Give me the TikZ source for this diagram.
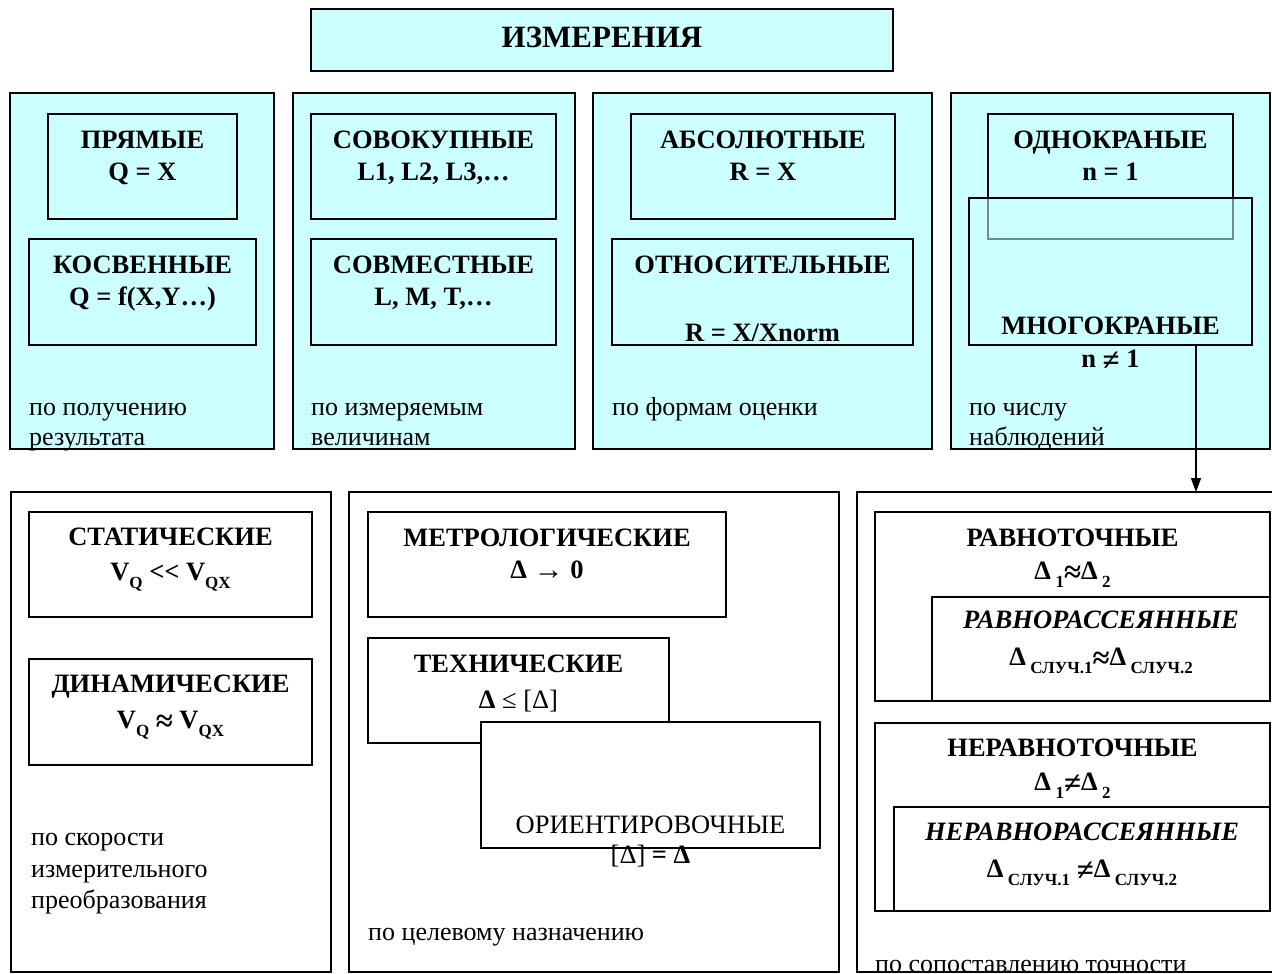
\documentclass[tikz,border=0pt]{standalone}
\usepackage{fontspec}
\setmainfont{Liberation Serif}
\usetikzlibrary{arrows.meta}
\definecolor{cy}{HTML}{CCFFFF}
\newcommand\lowsub[1]{\raisebox{-8pt}{\fontsize{17}{17}\selectfont #1}}
\newcommand\bigrel[1]{\raisebox{-3pt}{\fontsize{31}{30}\selectfont #1}}
\newcommand\mkbox[6]{\node[#2,anchor=north west,minimum width={(#5)-(#3)},minimum height={(#6)-(#4)}] (#1) at (#3,#4) {};}
\begin{document}
\begin{tikzpicture}[x=1pt,y=-1pt,
  panel/.style={draw,line width=1.6pt,fill=cy,inner sep=0,outer sep=0},
  wpanel/.style={draw,line width=1.6pt,fill=white,inner sep=0,outer sep=0},
  cbox/.style={draw,line width=1.6pt,fill=cy,inner sep=0,outer sep=0},
  tbox/.style={draw,line width=1.6pt,inner sep=0,outer sep=0},
  obox/.style={draw,line width=1.6pt,fill=cy,fill opacity=0.55,inner sep=0,outer sep=0},
  bt/.style={font=\bfseries\fontsize{26.5}{30}\selectfont,anchor=base,inner sep=0},
  bit/.style={font=\bfseries\itshape\fontsize{26.5}{30}\selectfont,anchor=base,inner sep=0},
  rt/.style={font=\fontsize{26.5}{30}\selectfont,anchor=base,inner sep=0},
  lab/.style={font=\fontsize{26}{30}\selectfont,anchor=base west,inner sep=0},
  ttl/.style={font=\bfseries\fontsize{31}{36}\selectfont,anchor=base,inner sep=0}]
\clip (0,0) rectangle (1272,974);
\fill[white] (0,0) rectangle (1272,974);
% title
\mkbox{title}{cbox}{311}{9}{893}{71}
\node[ttl] (ttext) at (602,48) {ИЗМЕРЕНИЯ};
% top panels
\mkbox{p1}{panel}{10}{93}{274}{449}
\mkbox{p2}{panel}{293}{93}{575}{449}
\mkbox{p3}{panel}{593}{93}{932}{449}
\mkbox{p4}{panel}{951}{93}{1270}{449}
% panel 1
\mkbox{pr}{cbox}{48}{114}{237}{219}
\node[bt] (pra) at (142.5,148) {ПРЯМЫЕ};
\node[bt] (prb) at (142.5,180) {Q = X};
\mkbox{ko}{cbox}{29}{239}{256}{345}
\node[bt] (koa) at (142.5,273) {КОСВЕННЫЕ};
\node[bt] (kob) at (142.5,305) {Q = f(X,Y…)};
\node[lab] (l1a) at (29,415) {по получению};
\node[lab] (l1b) at (29,445) {результата};
% panel 2
\mkbox{sk}{cbox}{311}{114}{556}{219}
\node[bt] (ska) at (433.5,148) {СОВОКУПНЫЕ};
\node[bt] (skb) at (433.5,180) {L1, L2, L3,…};
\mkbox{sm}{cbox}{311}{239}{556}{345}
\node[bt] (sma) at (433.5,273) {СОВМЕСТНЫЕ};
\node[bt] (smb) at (433.5,305) {L, M, T,…};
\node[lab] (l2a) at (311,415) {по измеряемым};
\node[lab] (l2b) at (311,445) {величинам};
% panel 3
\mkbox{ab}{cbox}{631}{114}{895}{219}
\node[bt] (aba) at (763,148) {АБСОЛЮТНЫЕ};
\node[bt] (abb) at (763,180) {R = X};
\mkbox{ot}{cbox}{612}{239}{913}{345}
\node[bt] (ota) at (762.5,273) {ОТНОСИТЕЛЬНЫЕ};
\node[bt] (otb) at (762.5,341) {R = X/Xnorm};
\node[lab] (l3a) at (612,415) {по формам оценки};
% panel 4
\mkbox{od}{tbox}{988}{114}{1233}{239}
\node[bt] (oda) at (1110.5,148) {ОДНОКРАНЫЕ};
\node[bt] (odb) at (1110.5,180) {n = 1};
\mkbox{mn}{obox}{969}{198}{1252}{345}
\node[bt] (mna) at (1110.5,334) {МНОГОКРАНЫЕ};
\node[bt] (mnb) at (1110.5,367) {n \bigrel{≠} 1};
\node[lab] (l4a) at (969,415) {по числу};
\node[lab] (l4b) at (969,445) {наблюдений};
% bottom panels
\mkbox{q1}{wpanel}{11}{492}{331}{972}
\mkbox{q2}{wpanel}{349}{492}{839}{972}
\mkbox{q3}{wpanel}{857}{492}{1285}{972}
% bottom panel 1
\mkbox{st}{tbox}{29}{512}{312}{617}
\node[bt] (sta) at (170.5,545) {СТАТИЧЕСКИЕ};
\node[bt] (stb) at (170.5,580) {V\lowsub{Q} <\kern0pt< V\lowsub{QX}};
\mkbox{di}{tbox}{29}{659}{312}{765}
\node[bt] (dia) at (170.5,692) {ДИНАМИЧЕСКИЕ};
\node[bt] (dib) at (170.5,728) {V\lowsub{Q} \bigrel{≈} V\lowsub{QX}};
\node[lab] (m1a) at (31,845) {по скорости};
\node[lab] (m1b) at (31,877) {измерительного};
\node[lab] (m1c) at (31,908) {преобразования};
% bottom panel 2
\mkbox{me}{tbox}{368}{512}{726}{617}
\node[bt] (mea) at (547,546) {МЕТРОЛОГИЧЕСКИЕ};
\node[bt] (meb) at (547,578) {Δ \raisebox{-1pt}{\fontsize{30}{30}\selectfont →} 0};
\mkbox{te}{wpanel}{368}{638}{669}{743}
\node[bt] (tea) at (518.5,672) {ТЕХНИЧЕСКИЕ};
\node[bt] (teb) at (518.5,708) {Δ {\mdseries ≤ [Δ]}};
\mkbox{or}{wpanel}{481}{722}{820}{848}
\node[rt] (ora) at (650.5,833) {ОРИЕНТИРОВОЧНЫЕ};
\node[bt] (orb) at (650.5,863) {{\mdseries [Δ]} = Δ};
\node[lab] (m2a) at (368,940) {по целевому назначению};
% bottom panel 3
\mkbox{rv}{tbox}{875}{512}{1270}{701}
\node[bt] (rva) at (1072.5,546) {РАВНОТОЧНЫЕ};
\node[bt] (rvb) at (1072.5,579) {Δ\,\lowsub{1}\bigrel{≈}Δ\,\lowsub{2}};
\mkbox{rr}{wpanel}{932}{597}{1270}{701}
\node[bit] (rra) at (1101,628) {РАВНОРАССЕЯННЫЕ};
\node[bt] (rrb) at (1101,665) {Δ\,\lowsub{СЛУЧ.1}\bigrel{≈}Δ\,\lowsub{СЛУЧ.2}};
\mkbox{nr}{tbox}{875}{723}{1270}{911}
\node[bt] (nra) at (1072.5,756) {НЕРАВНОТОЧНЫЕ};
\node[bt] (nrb) at (1072.5,790) {Δ\,\lowsub{1}\bigrel{≠}Δ\,\lowsub{2}};
\mkbox{nn}{wpanel}{894}{807}{1270}{911}
\node[bit] (nna) at (1082,840) {НЕРАВНОРАССЕЯННЫЕ};
\node[bt] (nnb) at (1082,877) {Δ\,\lowsub{СЛУЧ.1} \bigrel{≠}Δ\,\lowsub{СЛУЧ.2}};
\node[lab] (m3a) at (875,972) {по сопоставлению точности};
% arrow
\coordinate (ax) at (1196,0);
\draw[line width=1.4pt,-{Triangle[length=14pt,width=10pt]}] (mn.south -| ax) -- (q3.north -| ax);
\end{tikzpicture}
\end{document}
